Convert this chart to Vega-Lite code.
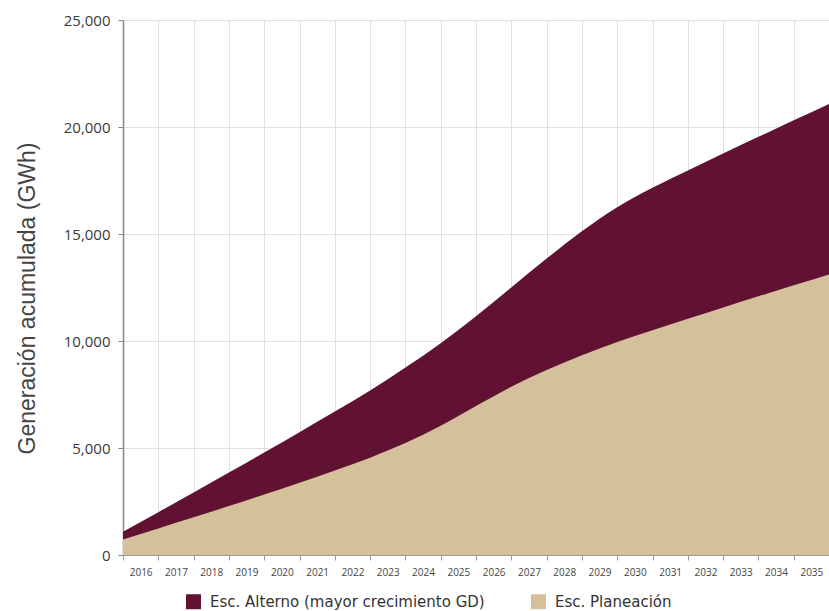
{
  "$schema": "https://vega.github.io/schema/vega-lite/v6.json",
  "width": 706,
  "height": 535,
  "autosize": {"type": "none"},
  "padding": {"left": 123, "top": 20, "right": 0, "bottom": 56},
  "background": "white",
  "config": {"view": {"stroke": null}, "font": "Open Sans"},
  "data": {
    "values": [
      {"anio": 2016, "escenario": "Esc. Alterno (mayor crecimiento GD)", "gwh": 1090},
      {"anio": 2017, "escenario": "Esc. Alterno (mayor crecimiento GD)", "gwh": 2000},
      {"anio": 2018, "escenario": "Esc. Alterno (mayor crecimiento GD)", "gwh": 2920},
      {"anio": 2019, "escenario": "Esc. Alterno (mayor crecimiento GD)", "gwh": 3850},
      {"anio": 2020, "escenario": "Esc. Alterno (mayor crecimiento GD)", "gwh": 4790},
      {"anio": 2021, "escenario": "Esc. Alterno (mayor crecimiento GD)", "gwh": 5740},
      {"anio": 2022, "escenario": "Esc. Alterno (mayor crecimiento GD)", "gwh": 6700},
      {"anio": 2023, "escenario": "Esc. Alterno (mayor crecimiento GD)", "gwh": 7690},
      {"anio": 2024, "escenario": "Esc. Alterno (mayor crecimiento GD)", "gwh": 8760},
      {"anio": 2025, "escenario": "Esc. Alterno (mayor crecimiento GD)", "gwh": 9900},
      {"anio": 2026, "escenario": "Esc. Alterno (mayor crecimiento GD)", "gwh": 11160},
      {"anio": 2027, "escenario": "Esc. Alterno (mayor crecimiento GD)", "gwh": 12500},
      {"anio": 2028, "escenario": "Esc. Alterno (mayor crecimiento GD)", "gwh": 13850},
      {"anio": 2029, "escenario": "Esc. Alterno (mayor crecimiento GD)", "gwh": 15130},
      {"anio": 2030, "escenario": "Esc. Alterno (mayor crecimiento GD)", "gwh": 16250},
      {"anio": 2031, "escenario": "Esc. Alterno (mayor crecimiento GD)", "gwh": 17160},
      {"anio": 2032, "escenario": "Esc. Alterno (mayor crecimiento GD)", "gwh": 17970},
      {"anio": 2033, "escenario": "Esc. Alterno (mayor crecimiento GD)", "gwh": 18760},
      {"anio": 2034, "escenario": "Esc. Alterno (mayor crecimiento GD)", "gwh": 19540},
      {"anio": 2035, "escenario": "Esc. Alterno (mayor crecimiento GD)", "gwh": 20310},
      {"anio": 2036, "escenario": "Esc. Alterno (mayor crecimiento GD)", "gwh": 21080},
      {"anio": 2016, "escenario": "Esc. Planeación", "gwh": 730},
      {"anio": 2017, "escenario": "Esc. Planeación", "gwh": 1240},
      {"anio": 2018, "escenario": "Esc. Planeación", "gwh": 1760},
      {"anio": 2019, "escenario": "Esc. Planeación", "gwh": 2290},
      {"anio": 2020, "escenario": "Esc. Planeación", "gwh": 2830},
      {"anio": 2021, "escenario": "Esc. Planeación", "gwh": 3380},
      {"anio": 2022, "escenario": "Esc. Planeación", "gwh": 3950},
      {"anio": 2023, "escenario": "Esc. Planeación", "gwh": 4550},
      {"anio": 2024, "escenario": "Esc. Planeación", "gwh": 5230},
      {"anio": 2025, "escenario": "Esc. Planeación", "gwh": 6040},
      {"anio": 2026, "escenario": "Esc. Planeación", "gwh": 6960},
      {"anio": 2027, "escenario": "Esc. Planeación", "gwh": 7860},
      {"anio": 2028, "escenario": "Esc. Planeación", "gwh": 8640},
      {"anio": 2029, "escenario": "Esc. Planeación", "gwh": 9330},
      {"anio": 2030, "escenario": "Esc. Planeación", "gwh": 9950},
      {"anio": 2031, "escenario": "Esc. Planeación", "gwh": 10500},
      {"anio": 2032, "escenario": "Esc. Planeación", "gwh": 11040},
      {"anio": 2033, "escenario": "Esc. Planeación", "gwh": 11570},
      {"anio": 2034, "escenario": "Esc. Planeación", "gwh": 12090},
      {"anio": 2035, "escenario": "Esc. Planeación", "gwh": 12600},
      {"anio": 2036, "escenario": "Esc. Planeación", "gwh": 13110}
    ]
  },
  "mark": {"type": "area", "interpolate": "monotone"},
  "encoding": {
    "x": {
      "field": "anio",
      "type": "quantitative",
      "scale": {"domain": [2016, 2036], "nice": false, "zero": false},
      "axis": {
        "title": null,
        "values": [2016, 2017, 2018, 2019, 2020, 2021, 2022, 2023, 2024, 2025, 2026, 2027, 2028, 2029, 2030, 2031, 2032, 2033, 2034, 2035, 2036],
        "format": "d",
        "labelExpr": "datum.value >= 2036 ? '' : datum.label",
        "labelOffset": 17.65,
        "labelFlush": false,
        "labelOverlap": false,
        "labelAngle": 0,
        "labelFontSize": 10,
        "labelColor": "#444444",
        "labelPadding": 7,
        "tickSize": 5,
        "tickColor": "#999999",
        "domainColor": "#999999",
        "gridColor": "#e0e0e0",
        "grid": true
      }
    },
    "y": {
      "field": "gwh",
      "type": "quantitative",
      "stack": null,
      "scale": {"domain": [0, 25000], "nice": false},
      "axis": {
        "values": [0, 5000, 10000, 15000, 20000, 25000],
        "format": ",d",
        "labelFontSize": 15,
        "labelColor": "#3a3a3a",
        "labelPadding": 8,
        "labelFlush": false,
        "tickSize": 5,
        "tickColor": "#888888",
        "domainColor": "#888888",
        "domainWidth": 1.5,
        "gridColor": "#e0e0e0",
        "title": "Generación acumulada (GWh)",
        "titleFont": "Liberation Sans",
        "titleFontSize": 23,
        "titleFontWeight": "normal",
        "titleColor": "#444444",
        "titlePadding": 24,
        "titleY": 278
      }
    },
    "color": {
      "field": "escenario",
      "type": "nominal",
      "scale": {
        "domain": ["Esc. Alterno (mayor crecimiento GD)", "Esc. Planeación"],
        "range": ["#611232", "#D4C19C"]
      },
      "legend": {
        "title": null,
        "orient": "none",
        "legendX": 63,
        "legendY": 574,
        "direction": "horizontal",
        "columns": 2,
        "columnPadding": 46,
        "symbolType": "square",
        "symbolSize": 225,
        "symbolStrokeWidth": 0,
        "symbolOpacity": 1,
        "labelFont": "DejaVu Sans",
        "labelFontSize": 15,
        "labelLimit": 400,
        "labelColor": "#333333",
        "labelOffset": 9
      }
    }
  }
}
